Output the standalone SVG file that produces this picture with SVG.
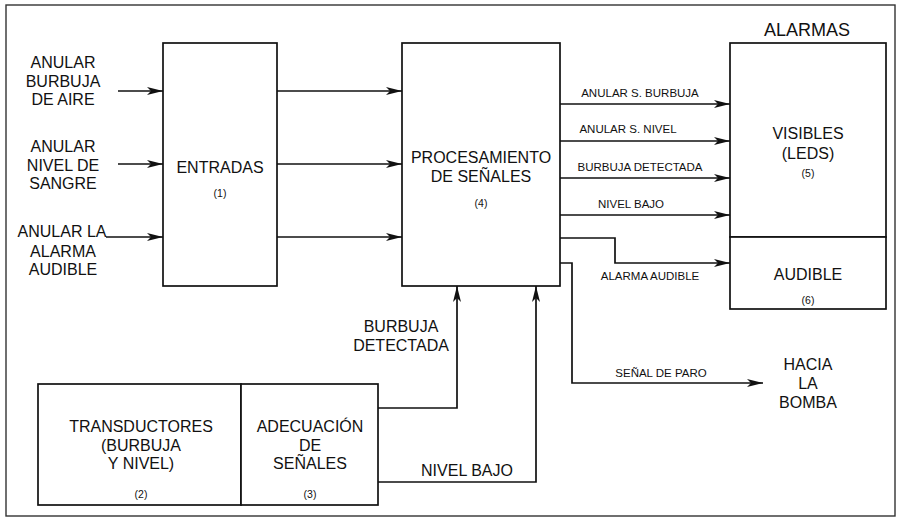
<svg xmlns="http://www.w3.org/2000/svg" width="897" height="518" viewBox="0 0 897 518">
<defs>
<style>
text{font-family:"Liberation Sans",Arial,sans-serif;fill:#111;text-anchor:middle}
.l{font-size:16px}
.s{font-size:11.5px}
.n{font-size:10.5px}
.t{font-size:18px}
.box{fill:#fff;stroke:#111;stroke-width:1.7}
.c{fill:none;stroke:#111;stroke-width:1.7}
</style>
<marker id="ah" viewBox="0 0 16 10" refX="16" refY="5" markerWidth="16" markerHeight="10" markerUnits="userSpaceOnUse" orient="auto">
<path d="M0,1 L16,5 L0,9 L4,5 Z" fill="#111"/>
</marker>
</defs>
<rect x="0" y="0" width="897" height="518" fill="#fff"/>
<rect id="frame" x="6" y="5" width="889" height="511" fill="none" stroke="#333" stroke-width="1.4"/>

<g id="inputs">
<text class="l" x="63" y="68">ANULAR</text>
<text class="l" x="63" y="87">BURBUJA</text>
<text class="l" x="63" y="105">DE AIRE</text>
<text class="l" x="63" y="152">ANULAR</text>
<text class="l" x="63" y="171">NIVEL DE</text>
<text class="l" x="63" y="189">SANGRE</text>
<text class="l" x="62" y="237">ANULAR LA</text>
<text class="l" x="63" y="257">ALARMA</text>
<text class="l" x="63" y="275">AUDIBLE</text>
</g>

<g id="entradas">
<rect class="box" x="163" y="43" width="114" height="243"/>
<text class="l" x="220" y="173">ENTRADAS</text>
<text class="n" x="220" y="197">(1)</text>
</g>

<g id="procesamiento">
<rect class="box" x="402" y="43" width="158" height="243"/>
<text class="l" x="481" y="163">PROCESAMIENTO</text>
<text class="l" x="481" y="182">DE SEÑALES</text>
<text class="n" x="481" y="207">(4)</text>
</g>

<g id="alarmas">
<text class="t" x="807" y="36">ALARMAS</text>
</g>

<g id="visibles">
<rect class="box" x="730" y="43" width="156" height="194"/>
<text class="l" x="808" y="139">VISIBLES</text>
<text class="l" x="808" y="159">(LEDS)</text>
<text class="n" x="808" y="177">(5)</text>
</g>

<g id="audible">
<rect class="box" x="730" y="237" width="156" height="72"/>
<text class="l" x="808" y="280">AUDIBLE</text>
<text class="n" x="808" y="304">(6)</text>
</g>

<g id="transductores">
<rect class="box" x="38" y="384" width="203" height="121"/>
<text class="l" x="141" y="432">TRANSDUCTORES</text>
<text class="l" x="141" y="451">(BURBUJA</text>
<text class="l" x="141" y="469">Y NIVEL)</text>
<text class="n" x="141" y="498">(2)</text>
</g>

<g id="adecuacion">
<rect class="box" x="241" y="384" width="137" height="121"/>
<text class="l" x="310" y="432">ADECUACIÓN</text>
<text class="l" x="310" y="451">DE</text>
<text class="l" x="310" y="469">SEÑALES</text>
<text class="n" x="310" y="498">(3)</text>
</g>

<g id="bomba">
<text class="l" x="808" y="370">HACIA</text>
<text class="l" x="808" y="389">LA</text>
<text class="l" x="808" y="408">BOMBA</text>
</g>

<g id="connectors">
<line class="c" x1="118" y1="91" x2="163" y2="91" marker-end="url(#ah)"/>
<line class="c" x1="118" y1="164" x2="163" y2="164" marker-end="url(#ah)"/>
<line class="c" x1="106" y1="237" x2="163" y2="237" marker-end="url(#ah)"/>
<line class="c" x1="277" y1="91" x2="402" y2="91" marker-end="url(#ah)"/>
<line class="c" x1="277" y1="164" x2="402" y2="164" marker-end="url(#ah)"/>
<line class="c" x1="277" y1="237" x2="402" y2="237" marker-end="url(#ah)"/>
<line class="c" x1="560" y1="104" x2="730" y2="104" marker-end="url(#ah)"/>
<line class="c" x1="560" y1="141" x2="730" y2="141" marker-end="url(#ah)"/>
<line class="c" x1="560" y1="178" x2="730" y2="178" marker-end="url(#ah)"/>
<line class="c" x1="560" y1="215" x2="730" y2="215" marker-end="url(#ah)"/>
<polyline class="c" points="560,238 615,238 615,263 730,263" marker-end="url(#ah)"/>
<polyline class="c" points="560,263 572,263 572,383 763,383" marker-end="url(#ah)"/>
<polyline class="c" points="378,408 457,408 457,286" marker-end="url(#ah)"/>
<polyline class="c" points="378,482 536,482 536,286" marker-end="url(#ah)"/>
<text class="s" x="640" y="97">ANULAR S. BURBUJA</text>
<text class="s" x="628" y="133">ANULAR S. NIVEL</text>
<text class="s" x="640" y="171">BURBUJA DETECTADA</text>
<text class="s" x="631" y="208">NIVEL BAJO</text>
<text class="s" x="650" y="280">ALARMA AUDIBLE</text>
<text class="s" x="661" y="377">SEÑAL DE PARO</text>
<text class="l" x="401" y="332">BURBUJA</text>
<text class="l" x="401" y="351">DETECTADA</text>
<text class="l" x="467" y="476">NIVEL BAJO</text>
</g>
</svg>
